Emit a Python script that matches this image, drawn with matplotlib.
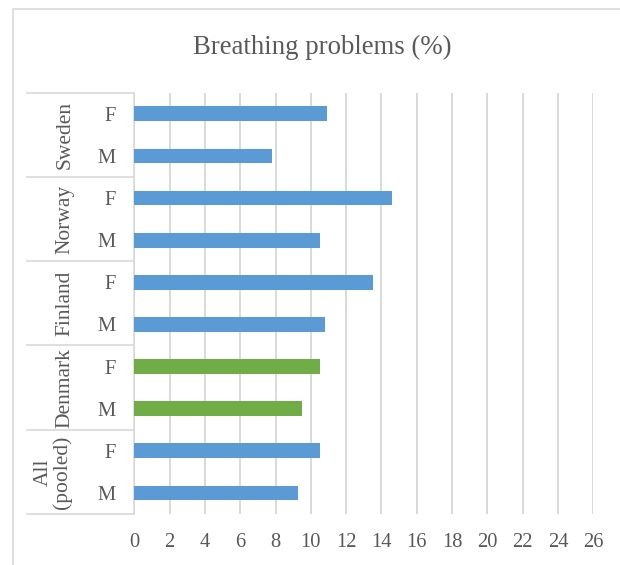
import matplotlib
matplotlib.use("Agg")
import matplotlib.pyplot as plt
from matplotlib.transforms import blended_transform_factory
from matplotlib.lines import Line2D
from matplotlib.patches import Rectangle

plt.rcParams['font.family'] = ['Liberation Serif', 'DejaVu Serif']

countries = ["All\n(pooled)", "Denmark", "Finland", "Norway", "Sweden"]
sexes = ["M", "F"]
values = [9.3, 10.5, 9.5, 10.5, 10.8, 13.5, 10.5, 14.6, 7.8, 10.9]
colors_by_country = ["#5B9BD5", "#70AD47", "#5B9BD5", "#5B9BD5", "#5B9BD5"]
xticks = list(range(0, 27, 2))
title = "Breathing problems (%)"

W, H = 620, 565
fig = plt.figure(figsize=(W / 100, H / 100), dpi=100)
ax_left, ax_right, ax_top, ax_bottom = 134.3, 593.3, 92.7, 514.0
ax = fig.add_axes([ax_left / W, 1 - ax_bottom / H, (ax_right - ax_left) / W, (ax_bottom - ax_top) / H])

text_col = "#595959"
grid_col = "#D9D9D9"

n = len(values)
ypos = list(range(n))
bar_colors = [colors_by_country[i // 2] for i in range(n)]
ax.barh(ypos, values, height=0.35, color=bar_colors, zorder=3)

ax.set_xlim(0, 26)
ax.set_ylim(-0.5, n - 0.5)
ax.set_xticks(xticks)
ax.set_xticklabels([str(t) for t in xticks])
ax.set_yticks([])
ax.tick_params(axis='x', length=0, pad=13.5, labelsize=14.8, labelcolor=text_col)
for s in ["top", "right", "bottom"]:
    ax.spines[s].set_visible(False)
ax.spines["left"].set_color(grid_col)
ax.spines["left"].set_linewidth(1.2)
ax.grid(axis='x', color=grid_col, linewidth=1.4, zorder=0)
ax.set_axisbelow(True)

tr = blended_transform_factory(fig.transFigure, ax.transData)
# group separators
for g in range(len(countries) + 1):
    yb = 2 * g - 0.5
    fig.add_artist(Line2D([27 / W, ax_left / W], [yb, yb], transform=tr, color=grid_col, lw=1.2))

# sex labels
for i in range(n):
    fig.text(116 / W, ypos[i], sexes[i % 2], transform=tr, ha='right', va='center_baseline',
             fontsize=14.8, color=text_col)

# country labels
for g, c in enumerate(countries):
    xc = 53 if "\n" in c else 65
    fig.text(xc / W, 2 * g + 0.5, c, transform=tr, ha='center', va='center', rotation=90,
             fontsize=15.5, color=text_col, linespacing=1.0)

fig.text(322 / W, 1 - 47 / H, title, ha='center', va='center', fontsize=19.3, color=text_col)

fig.add_artist(Rectangle((13 / W, -0.1), 1.2, 1 - 8.5 / H + 0.1, transform=fig.transFigure,
                         fill=False, edgecolor=grid_col, lw=1.2))

fig.savefig("out.png", dpi=100)
